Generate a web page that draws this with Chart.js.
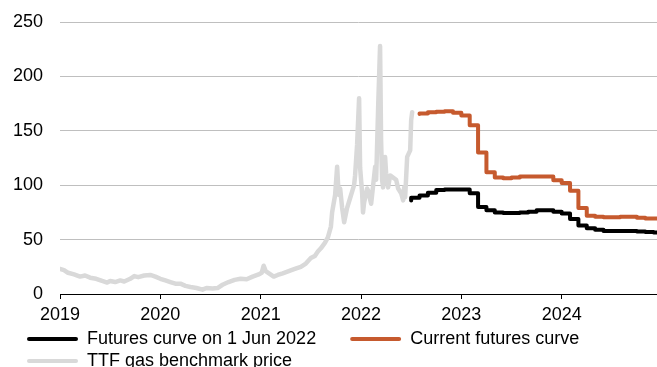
<!DOCTYPE html>
<html>
<head>
<meta charset="utf-8">
<script src="https://cdn.jsdelivr.net/npm/chart.js@4.4.1/dist/chart.umd.min.js"></script>
<style>
    html, body { margin: 0; padding: 0; background: #fff; overflow: hidden; }
    #wrap { width: 657px; height: 380px; position: relative; }
</style>
</head>
<body>
<div id="wrap"><canvas id="gasChart"></canvas></div>
<script>
// TTF Preis (EUR/MWh), Zeitachse in Dezimaljahren
const ttfYears = [
    2019.00, 2019.04, 2019.08, 2019.14, 2019.20, 2019.25, 2019.30, 2019.36, 2019.42, 2019.47,
    2019.50, 2019.55, 2019.60, 2019.64, 2019.70, 2019.74, 2019.78, 2019.84, 2019.90, 2019.95,
    2020.00, 2020.05, 2020.10, 2020.15, 2020.20, 2020.25, 2020.30, 2020.36, 2020.42, 2020.46,
    2020.52, 2020.57, 2020.62, 2020.68, 2020.74, 2020.80, 2020.86, 2020.92, 2020.98, 2021.01,
    2021.03, 2021.05, 2021.09, 2021.13, 2021.17, 2021.22, 2021.28, 2021.34, 2021.40, 2021.45,
    2021.50, 2021.54, 2021.57, 2021.60, 2021.64, 2021.67, 2021.70, 2021.712, 2021.742, 2021.762,
    2021.772, 2021.782, 2021.792, 2021.812, 2021.832, 2021.861, 2021.891, 2021.931, 2021.941, 2021.961,
    2021.981, 2021.991, 2022.011, 2022.02, 2022.031, 2022.061, 2022.071, 2022.101, 2022.141, 2022.151,
    2022.171, 2022.190, 2022.200, 2022.210, 2022.220, 2022.240, 2022.250, 2022.270, 2022.290, 2022.320,
    2022.350, 2022.370, 2022.400, 2022.420, 2022.430, 2022.440, 2022.460, 2022.490, 2022.500, 2022.510
];
const ttfPrices = [
    23, 22, 19.5, 18, 16, 17, 15, 14, 12, 10.5,
    12, 11, 12.5, 11.5, 14, 16.5, 15.5, 17, 17.5, 16,
    14, 12.5, 11, 9.5, 9.5, 7.5, 6.5, 5.5, 4, 5.5,
    5, 5.5, 8.5, 11, 13, 14, 13.5, 16, 18, 19.5,
    26, 21, 18.5, 16, 17.5, 19, 21, 23, 25, 28,
    33, 35, 39, 42, 47, 52, 62, 75, 91, 117,
    100, 91, 97, 79, 66, 79, 88, 100, 109, 137,
    180, 116, 93, 75, 84, 97, 95, 83, 117, 105,
    172, 228, 142, 105, 98, 126, 111, 98, 109, 107,
    105, 97, 92.6, 86, 98, 89, 126, 132, 160, 167
];

// Terminkurven, Monatskontrakte
const futureMonths = [
    '2022-07', '2022-08', '2022-09', '2022-10', '2022-11', '2022-12',
    '2023-01', '2023-02', '2023-03', '2023-04', '2023-05', '2023-06',
    '2023-07', '2023-08', '2023-09', '2023-10', '2023-11', '2023-12',
    '2024-01', '2024-02', '2024-03', '2024-04', '2024-05', '2024-06',
    '2024-07', '2024-08', '2024-09', '2024-10', '2024-11', '2024-12', '2025-01'
];
const futuresJun2022 = [
    86, 88.5, 90.5, 93, 95.5, 96,
    96, 96, 92.5, 80, 77, 75,
    74.5, 74.5, 75, 75.5, 77, 77,
    75.5, 74, 69, 63, 60.5, 59,
    58, 58, 58, 58, 57.5, 57, 56.5
];
const futuresCurrent = [
    null, 165.5, 166, 167, 167.5, 168,
    166.5, 164, 155, 130, 112, 107,
    106.5, 107, 108, 108, 108, 108,
    104.5, 102, 95, 79, 72, 71,
    70.5, 70.5, 71, 71, 70, 69.5, 69.5
];

const yearTicks = [2019, 2020, 2021, 2022, 2023, 2024];
const seriesLabels = ['Futures curve on 1 Jun 2022', 'Current futures curve', 'TTF gas benchmark price'];
const seriesColors = ['#000000', '#c65a2e', '#d9d9d9'];

function monthToYear(m) {
    const parts = m.split('-');
    return Number(parts[0]) + (Number(parts[1]) - 1) / 12;
}

const futureX = futureMonths.map(monthToYear);
const ttfPoints = ttfYears.map((x, i) => ({ x: x, y: ttfPrices[i] }));
const junPoints = futureX.map((x, i) => ({ x: x, y: futuresJun2022[i] }));
const currentPoints = futureX.map((x, i) => ({ x: x, y: futuresCurrent[i] }));

Chart.defaults.font.family = '"Liberation Sans", Arial, sans-serif';
Chart.defaults.font.size = 18;
Chart.defaults.color = '#000';

function lineSet(label, data, color, width, stepped) {
    return {
        label: label,
        data: data,
        borderColor: color,
        backgroundColor: color,
        borderWidth: width,
        pointRadius: 0,
        fill: false,
        tension: 0,
        stepped: stepped,
        borderCapStyle: 'round',
        borderJoinStyle: 'round'
    };
}

// Legende nach rechts schieben, ohne die Achse zu verändern
const legendShift = {
    id: 'legendShift',
    afterLayout: function(chart) {
        chart.legend.left += 23;
    }
};

const ctx = document.getElementById('gasChart').getContext('2d');
new Chart(ctx, {
    type: 'line',
    data: {
        datasets: [
            lineSet(seriesLabels[0], junPoints, seriesColors[0], 4, 'after'),
            lineSet(seriesLabels[1], currentPoints, seriesColors[1], 4, 'after'),
            lineSet(seriesLabels[2], ttfPoints, seriesColors[2], 4.5, false)
        ]
    },
    plugins: [legendShift],
    options: {
        responsive: true,
        maintainAspectRatio: false,
        animation: false,
        layout: { padding: { top: 22, left: 0, right: 0, bottom: 0 } },
        plugins: {
            tooltip: { enabled: false },
            legend: {
                position: 'bottom',
                align: 'start',
                labels: {
                    boxWidth: 51,
                    boxHeight: 4,
                    padding: 4,
                    color: '#000',
                    font: { size: 18 },
                    generateLabels: function(chart) {
                        const items = Chart.defaults.plugins.legend.labels.generateLabels(chart);
                        items.forEach(function(item) {
                            item.fillStyle = item.strokeStyle;
                            item.lineWidth = 0;
                            item.borderRadius = 2;
                        });
                        // Abstand zum zweiten Eintrag
                        items[0].text = items[0].text + '      ';
                        return items;
                    }
                }
            }
        },
        scales: {
            x: {
                type: 'linear',
                min: 2019,
                max: 2024.95,
                afterBuildTicks: function(scale) {
                    scale.ticks = yearTicks.map(v => ({ value: v }));
                },
                afterFit: function(scale) { scale.height = 32; },
                ticks: {
                    padding: 5,
                    color: '#000',
                    maxRotation: 0,
                    callback: function(value) { return String(value); }
                },
                grid: {
                    drawOnChartArea: false,
                    drawTicks: true,
                    tickLength: 5,
                    color: '#000'
                },
                border: { display: true, color: '#000', width: 1 }
            },
            y: {
                min: 0,
                max: 250,
                afterFit: function(scale) {
                    scale.width = 60;
                    scale.paddingTop = 11;
                    scale.paddingBottom = 11;
                },
                ticks: {
                    stepSize: 50,
                    padding: 17,
                    color: '#000'
                },
                grid: {
                    drawTicks: false,
                    color: '#bfbfbf',
                    lineWidth: 1
                },
                border: { display: false }
            }
        }
    }
});
</script>
</body>
</html>
